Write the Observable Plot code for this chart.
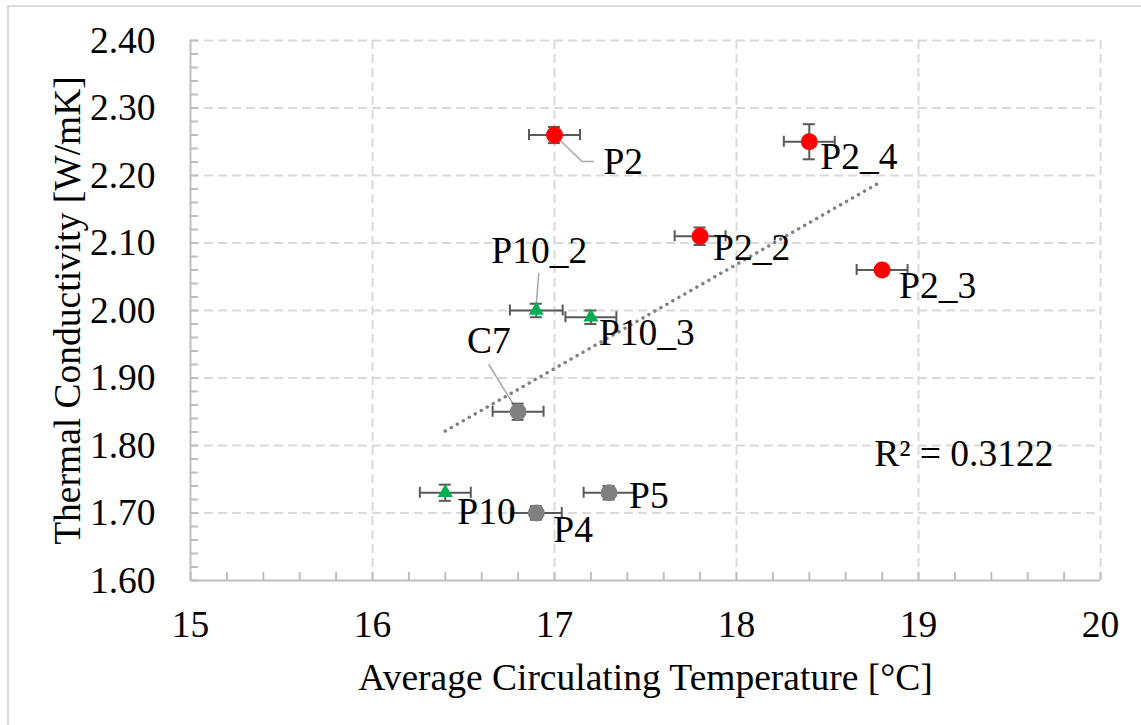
<!DOCTYPE html>
<html>
<head>
<meta charset="utf-8">
<script src="https://cdn.jsdelivr.net/npm/d3@7"></script>
<script src="https://cdn.jsdelivr.net/npm/@observablehq/plot@0.6"></script>
<style>
  html, body { margin: 0; padding: 0; background: #fff; }
  #chart { position: relative; width: 1141px; height: 725px; overflow: hidden; }
  #chart .edge { position: absolute; left: 7px; top: 5px; width: 1200px; height: 800px; border: 2px solid #d9d9d9; box-sizing: border-box; }
  #chart svg { position: absolute; left: 0; top: 0; }
</style>
</head>
<body>
<div id="chart"><div class="edge"></div></div>
<script>
// Measured samples: average circulating temperature vs thermal conductivity
const samples      = ["P2", "P2_4", "P2_2", "P2_3", "P10_2", "P10_3", "C7", "P10", "P4", "P5"];
const series       = ["P2", "P2", "P2", "P2", "P10", "P10", "other", "P10", "other", "other"];
const temperature  = [17.0, 18.4, 17.8, 18.8, 16.9, 17.2, 16.8, 16.4, 16.9, 17.3];
const conductivity = [2.26, 2.25, 2.11, 2.06, 2.00, 1.99, 1.85, 1.73, 1.70, 1.73];
const tempError    = [0.14, 0.14, 0.14, 0.14, 0.145, 0.14, 0.14, 0.14, 0.14, 0.14];
const condError    = [0.012, 0.026, 0.013, 0.006, 0.010, 0.010, 0.012, 0.012, 0.010, 0.010];

// Axis ticks
const xTicks = [15, 16, 17, 18, 19, 20];
const yTicks = [1.6, 1.7, 1.8, 1.9, 2.0, 2.1, 2.2, 2.3, 2.4];
const xMinor = d3.range(0, 26).map(i => 15 + i * 0.2);
const yMinor = d3.range(0, 41).map(i => 1.6 + i * 0.02);

const xTitle = "Average Circulating Temperature [°C]";
const yTitle = "Thermal Conductivity [W/mK]";

const seriesNames  = ["P2", "P10", "other"];
const seriesColors = ["#ff0000", "#00b050", "#808080"];

const rows = samples.map((s, i) => ({
  sample: s, series: series[i],
  temperature: temperature[i], conductivity: conductivity[i],
  ex: tempError[i], ey: condError[i]
}));

// Label placement (pixel offsets of the text baseline start from the marker)
const labelOffset = {
  "P2": [49, 39], "P2_4": [11, 27], "P2_2": [13, 24], "P2_3": [17, 28],
  "P10_2": [-45, -48], "P10_3": [8, 28], "C7": [-51, -59],
  "P10": [12, 31], "P4": [17, 29], "P5": [20, 15]
};
// Leader lines from marker to its label (pixel offsets)
const leaders = {
  "P2": [[0, 0], [28, 27], [40, 27]],
  "P10_2": [[0, 0], [3, -37]],
  "C7": [[0, 0], [-29, -47]]
};

// Coefficient of determination of the linear fit
const mx = d3.mean(temperature), my = d3.mean(conductivity);
const sxy = d3.sum(temperature, (t, i) => (t - mx) * (conductivity[i] - my));
const sxx = d3.sum(temperature, t => (t - mx) ** 2);
const syy = d3.sum(conductivity, c => (c - my) ** 2);
const r2Label = `R² = ${(sxy * sxy / (sxx * syy)).toFixed(4)}`;

const txt = {fill: "#000", fontFamily: "Liberation Serif", fontSize: 37.5};
const gridStyle = {stroke: "#d9d9d9", strokeOpacity: 1, strokeWidth: 2, strokeDasharray: "9,5"};
const axisStyle = {stroke: "#bfbfbf", strokeOpacity: 1, strokeWidth: 2};
const barStyle = {stroke: "#595959", strokeOpacity: 1, strokeWidth: 2};

function leaderMark(index, scales) {
  const g = d3.create("svg:g")
    .attr("fill", "none")
    .attr("stroke", "#a6a6a6")
    .attr("stroke-width", 1.5);
  for (const d of rows) {
    const path = leaders[d.sample];
    if (!path) continue;
    const px = scales.x(d.temperature), py = scales.y(d.conductivity);
    g.append("path").attr("d", d3.line()(path.map(([u, v]) => [px + u, py + v])));
  }
  return g.node();
}

const chart = Plot.plot({
  width: 1141,
  height: 725,
  marginLeft: 190,
  marginRight: 41,
  marginTop: 40,
  marginBottom: 145,
  style: {background: "transparent"},
  x: {domain: [15, 20], axis: null},
  y: {domain: [1.6, 2.4], axis: null},
  color: {domain: seriesNames, range: seriesColors},
  marks: [
    // gridlines
    Plot.ruleX(xTicks.slice(1), gridStyle),
    Plot.ruleY(yTicks.slice(1), gridStyle),
    // axis lines and inward minor ticks
    Plot.ruleX([15], axisStyle),
    Plot.ruleY([1.6], axisStyle),
    Plot.ruleY(yMinor, {y: d => d, x1: () => 15, x2: () => 15, insetRight: -8, ...axisStyle}),
    Plot.ruleX(xMinor, {x: d => d, y1: () => 1.6, y2: () => 1.6, insetTop: -8, ...axisStyle}),
    // tick labels
    Plot.text(xTicks, {x: d => d, frameAnchor: "bottom", dy: 44, lineAnchor: "middle", text: d => String(d), ...txt}),
    Plot.text(yTicks, {y: d => d, frameAnchor: "left", dx: -35, textAnchor: "end", lineAnchor: "middle", text: d => d.toFixed(2), ...txt}),
    // axis titles
    Plot.text([xTitle], {frameAnchor: "bottom", dy: 97, lineAnchor: "middle", text: d => d, ...txt}),
    Plot.text([yTitle], {frameAnchor: "left", dx: -123, rotate: -90, lineAnchor: "middle", textAnchor: "middle", text: d => d, ...txt}),
    // linear trend line
    Plot.linearRegressionY(rows, {x: "temperature", y: "conductivity", ci: 0, stroke: "#808080", strokeWidth: 3.4, strokeDasharray: "0.1,6.8", strokeLinecap: "round"}),
    Plot.text([r2Label], {frameAnchor: "bottom-right", dx: -47, dy: -115, textAnchor: "end", lineAnchor: "bottom", text: d => d, ...txt}),
    // leader lines
    leaderMark,
    // horizontal error bars with caps
    Plot.ruleY(rows, {y: "conductivity", x1: d => d.temperature - d.ex, x2: d => d.temperature + d.ex, ...barStyle}),
    Plot.ruleX(rows, {x: d => d.temperature - d.ex, y1: "conductivity", y2: "conductivity", insetTop: -5.5, insetBottom: -5.5, ...barStyle}),
    Plot.ruleX(rows, {x: d => d.temperature + d.ex, y1: "conductivity", y2: "conductivity", insetTop: -5.5, insetBottom: -5.5, ...barStyle}),
    // vertical error bars with caps
    Plot.ruleX(rows, {x: "temperature", y1: d => d.conductivity - d.ey, y2: d => d.conductivity + d.ey, ...barStyle}),
    Plot.ruleY(rows, {y: d => d.conductivity - d.ey, x1: "temperature", x2: "temperature", insetLeft: -6, insetRight: -6, ...barStyle}),
    Plot.ruleY(rows, {y: d => d.conductivity + d.ey, x1: "temperature", x2: "temperature", insetLeft: -6, insetRight: -6, ...barStyle}),
    // markers
    Plot.dot(rows.filter(d => d.series !== "P10"), {x: "temperature", y: "conductivity", fill: "series", r: 8.5, symbol: "circle"}),
    Plot.dot(rows.filter(d => d.series === "P10"), {x: "temperature", y: "conductivity", fill: "series", r: 5.6, symbol: "triangle"}),
    // sample labels
    ...rows.map(d => Plot.text([d], {
      x: "temperature", y: "conductivity", text: "sample",
      dx: labelOffset[d.sample][0], dy: labelOffset[d.sample][1],
      textAnchor: "start", lineAnchor: "bottom", ...txt
    }))
  ]
});

document.getElementById("chart").appendChild(chart);
</script>
</body>
</html>
